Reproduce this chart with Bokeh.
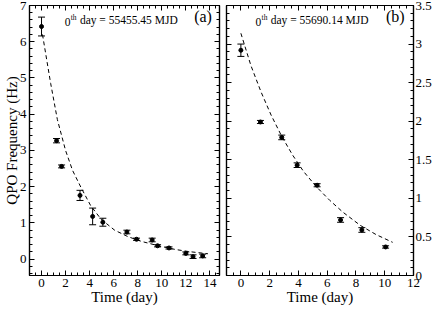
from bokeh.plotting import figure
from bokeh.models import (LinearAxis, SingleIntervalTicker, Range1d, Whisker,
                          TeeHead, ColumnDataSource, Label)
from bokeh.layouts import row
from bokeh.embed import file_html
from bokeh.resources import INLINE

# ---------------- data: panel (a) ----------------
time_a = [0.0, 1.25, 1.67, 3.2, 4.25, 5.1, 7.1, 7.9, 9.2, 9.65, 10.6, 12.0, 12.6, 13.4]
freq_a = [6.42, 3.27, 2.56, 1.76, 1.18, 1.02, 0.75, 0.55, 0.53, 0.37, 0.31, 0.16, 0.07, 0.09]
err_a = [0.26, 0.06, 0.04, 0.14, 0.23, 0.11, 0.05, 0.03, 0.05, 0.03, 0.03, 0.04, 0.05, 0.05]
fit_t_a = [0.08, 0.76, 1.32, 2.0, 2.58, 3.28, 4.1, 4.96, 6.08, 7.2, 8.32, 9.72, 11.1, 12.24, 13.84]
fit_f_a = [6.2, 4.85, 3.85, 3.0, 2.45, 1.98, 1.47, 1.10, 0.80, 0.62, 0.49, 0.37, 0.27, 0.21, 0.15]

# ---------------- data: panel (b) ----------------
time_b = [0.0, 1.36, 2.84, 3.91, 5.3, 6.93, 8.41, 10.06]
freq_b = [2.92, 1.99, 1.79, 1.43, 1.17, 0.72, 0.59, 0.37]
err_b = [0.08, 0.02, 0.03, 0.03, 0.02, 0.03, 0.03, 0.015]
fit_t_b = [0.0, 0.7, 1.4, 2.1, 2.85, 3.6, 4.35, 5.25, 6.2, 7.1, 8.3, 9.4, 10.55]
fit_f_b = [3.14, 2.72, 2.38, 2.08, 1.80, 1.56, 1.35, 1.15, 0.97, 0.82, 0.65, 0.53, 0.43]

FONT = "Liberation Serif"
TICK_FS = "13px"
LABEL_FS = "15px"


def style_axis(ax, ticker, show_labels):
    ax.ticker = ticker
    ax.axis_line_color = "black"
    ax.axis_line_width = 1.2
    ax.major_tick_in = 5
    ax.major_tick_out = 0
    ax.minor_tick_in = 3
    ax.minor_tick_out = 0
    ax.major_tick_line_color = "black"
    ax.minor_tick_line_color = "black"
    ax.major_label_text_font = FONT
    ax.major_label_text_color = "black"
    ax.axis_label_text_font = FONT
    ax.axis_label_text_font_style = "normal"
    ax.axis_label_text_font_size = LABEL_FS
    ax.axis_label_text_color = "black"
    ax.axis_label_standoff = -1
    if show_labels:
        ax.major_label_text_font_size = TICK_FS
        ax.major_label_standoff = 3
    else:
        ax.major_label_text_font_size = "0px"
        ax.major_label_standoff = 0


def make_panel(xr, yr, yt, ylabel_side, ylabel, fw, left_border, right_border):
    p = figure(frame_width=fw, frame_height=270,
               x_range=Range1d(*xr), y_range=Range1d(*yr),
               output_backend="svg", toolbar_location=None,
               x_axis_location=None, y_axis_location=None,
               min_border_left=left_border, min_border_right=right_border,
               min_border_top=5, min_border_bottom=0)
    p.xgrid.grid_line_color = None
    p.ygrid.grid_line_color = None
    p.outline_line_color = "black"
    p.outline_line_width = 1.2
    p.background_fill_color = "white"
    p.border_fill_color = "white"

    xb = LinearAxis(axis_label="Time (day)")
    style_axis(xb, SingleIntervalTicker(interval=2, num_minor_ticks=4), True)
    p.add_layout(xb, "below")
    xa = LinearAxis()
    style_axis(xa, SingleIntervalTicker(interval=2, num_minor_ticks=4), False)
    p.add_layout(xa, "above")

    yl = LinearAxis(axis_label=ylabel if ylabel_side == "left" else None)
    style_axis(yl, SingleIntervalTicker(interval=yt, num_minor_ticks=5), ylabel_side == "left")
    if ylabel_side == "left":
        yl.axis_label_standoff = -3
    p.add_layout(yl, "left")
    yrr = LinearAxis()
    style_axis(yrr, SingleIntervalTicker(interval=yt, num_minor_ticks=5), ylabel_side == "right")
    if ylabel_side == "right":
        yrr.major_label_standoff = 2
    p.add_layout(yrr, "right")
    return p


def add_data(p, t, f, e, ft, ff):
    src = ColumnDataSource(dict(
        x=t, y=f,
        upper=[v + d for v, d in zip(f, e)],
        lower=[v - d for v, d in zip(f, e)]))
    w = Whisker(source=src, base="x", upper="upper", lower="lower",
                dimension="height", line_color="black", line_width=1,
                upper_head=TeeHead(size=7, line_color="black", line_width=1),
                lower_head=TeeHead(size=7, line_color="black", line_width=1))
    p.add_layout(w)
    p.scatter("x", "y", source=src, size=4, color="black")
    p.line(ft, ff, line_dash="4 3", line_width=1, color="black")


def add_note(p, x0, y0, xs, ys, xd, yd, mjd, xl, yl, tag):
    p.add_layout(Label(x=x0, y=y0, text="0", text_font=FONT,
                       text_font_size="11.5px", text_color="black"))
    p.add_layout(Label(x=xs, y=ys, text="th", text_font=FONT,
                       text_font_size="7.5px", text_color="black"))
    p.add_layout(Label(x=xd, y=yd, text="day = " + mjd + " MJD", text_font=FONT,
                       text_font_size="11.5px", text_color="black"))
    p.add_layout(Label(x=xl, y=yl, text=tag, text_font=FONT,
                       text_font_size="16px", text_color="black"))


pa = make_panel((-1, 14.8), (-0.45, 7.0), 1, "left", "QPO Frequency (Hz)", 190, 29, 3)
add_data(pa, time_a, freq_a, err_a, fit_t_a, fit_f_a)
add_note(pa, 1.93, 6.44, 2.43, 6.555, 3.19, 6.44, "55455.45", 12.69, 6.46, "(a)")

pb = make_panel((-1, 12), (0, 3.5), 0.5, "right", None, 187, 4, 23)
add_data(pb, time_b, freq_b, err_b, fit_t_b, fit_f_b)
add_note(pb, 1.02, 3.23, 1.44, 3.285, 2.07, 3.23, "55690.14", 10.08, 3.243, "(b)")

layout = row(pa, pb, spacing=0)
open("out.html", "w").write(file_html(layout, INLINE))
